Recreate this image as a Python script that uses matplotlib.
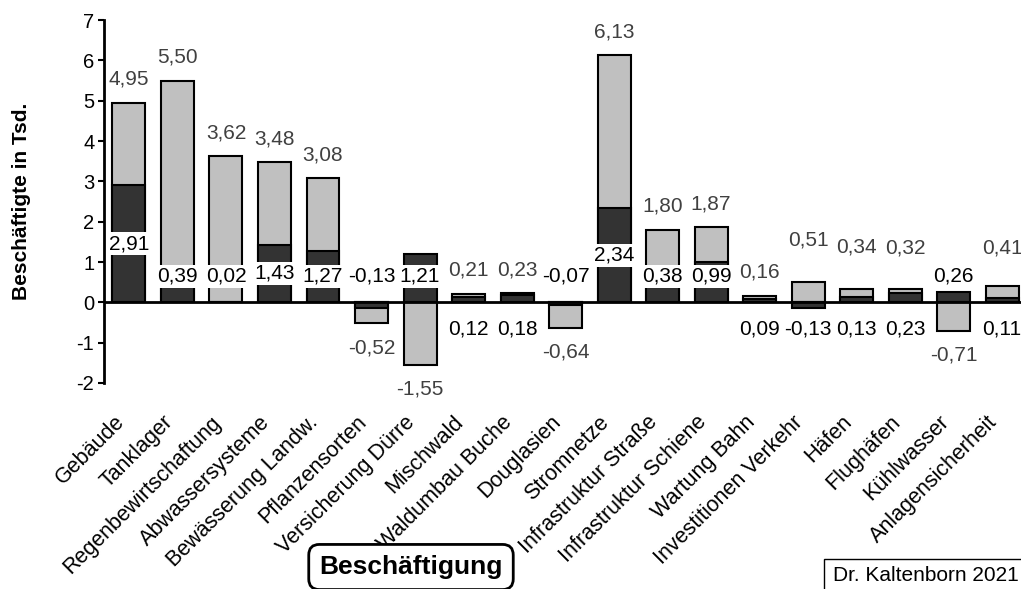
import matplotlib
matplotlib.use("Agg")
import matplotlib.pyplot as plt
from matplotlib.transforms import ScaledTranslation

plt.rcParams['font.family'] = ['Liberation Sans', 'DejaVu Sans']
plt.rcParams['axes.unicode_minus'] = False

# Kategorien und Werte (Beschäftigte in Tsd.)
kategorien = ["Gebäude", "Tanklager", "Regenbewirtschaftung", "Abwassersysteme",
              "Bewässerung Landw.", "Pflanzensorten", "Versicherung Dürre", "Mischwald",
              "Waldumbau Buche", "Douglasien", "Stromnetze", "Infrastruktur Straße",
              "Infrastruktur Schiene", "Wartung Bahn", "Investitionen Verkehr", "Häfen",
              "Flughäfen", "Kühlwasser", "Anlagensicherheit"]
werte_hell = [4.95, 5.50, 3.62, 3.48, 3.08, -0.52, -1.55, 0.21, 0.23, -0.64, 6.13,
              1.80, 1.87, 0.16, 0.51, 0.34, 0.32, -0.71, 0.41]
werte_dunkel = [2.91, 0.39, 0.02, 1.43, 1.27, -0.13, 1.21, 0.12, 0.18, -0.07, 2.34,
                0.38, 0.99, 0.09, -0.13, 0.13, 0.23, 0.26, 0.11]

# Beschriftungen der dunklen Balken unterhalb der Achse
unten = {"Mischwald", "Waldumbau Buche", "Wartung Bahn", "Investitionen Verkehr",
         "Häfen", "Flughäfen", "Anlagensicherheit"}
# etwas höher gesetzte Beschriftungen der hellen Balken
extra_hoehe = {"Investitionen Verkehr": 0.45, "Häfen": 0.45, "Flughäfen": 0.45,
               "Anlagensicherheit": 0.35}


def fmt(v):
    return f"{v:.2f}".replace(".", ",")


fig = plt.figure(figsize=(10.21, 5.89), dpi=100)
ax = fig.add_axes([104 / 1021, 1 - 383 / 589, 1 - 104 / 1021, (383 - 20) / 589])

x = range(len(kategorien))
ax.bar(x, werte_hell, width=0.68, color="#c0c0c0", edgecolor="black", linewidth=1.5, zorder=2)
ax.bar(x, werte_dunkel, width=0.68, color="#333333", edgecolor="black", linewidth=1.5, zorder=2)
ax.axhline(0, color="black", linewidth=2, zorder=4)

for i, name in enumerate(kategorien):
    h = werte_hell[i]
    d = werte_dunkel[i]
    if h >= 0:
        y_h = h + 0.58 + extra_hoehe.get(name, 0)
    else:
        y_h = h - 0.6
    ax.text(i, y_h, fmt(h), ha="center", va="center", fontsize=15, color="#404040", zorder=5)
    if name in unten:
        y_d = -0.65
    else:
        y_d = max(abs(d) / 2, 0.65)
    ax.text(i, y_d, fmt(d), ha="center", va="center", fontsize=15, color="black", zorder=5,
            bbox=dict(boxstyle="square,pad=0.1", facecolor="white", edgecolor="none"))

ax.set_xlim(-0.515, 18.39)
ax.set_ylim(-2, 7)
ax.set_yticks(range(-2, 8))
ax.tick_params(axis="y", labelsize=14.5, length=4, width=1.5, direction="out", pad=3)
ax.set_xticks(list(x))
ax.set_xticklabels(kategorien, rotation=45, ha="right", va="center",
                   rotation_mode="anchor", fontsize=15.5)
ax.tick_params(axis="x", length=0, pad=26)
verschiebung = ScaledTranslation(-0.08, 0, fig.dpi_scale_trans)
for lab in ax.get_xticklabels():
    lab.set_transform(lab.get_transform() + verschiebung)
for s in ["top", "right", "bottom"]:
    ax.spines[s].set_visible(False)
ax.spines["left"].set_linewidth(2)

fig.text(22 / 1021, 1 - 201 / 589, "Beschäftigte in Tsd.", rotation=90, ha="center",
         va="center", fontsize=15, fontweight="bold")

fig.text(411 / 1021, 1 - 567 / 589, "Beschäftigung", ha="center", va="center",
         fontsize=19, fontweight="bold",
         bbox=dict(boxstyle="round,pad=0.4", facecolor="white", edgecolor="black", linewidth=2))

fig.patches.append(plt.Rectangle((824 / 1021, -0.1), 0.3, (589 - 559) / 589 + 0.1,
                                 transform=fig.transFigure, fill=False, edgecolor="black",
                                 linewidth=1))
fig.text(833 / 1021, 1 - 575.5 / 589, "Dr. Kaltenborn 2021", ha="left", va="center",
         fontsize=15)

fig.savefig("out.png", dpi=100)
